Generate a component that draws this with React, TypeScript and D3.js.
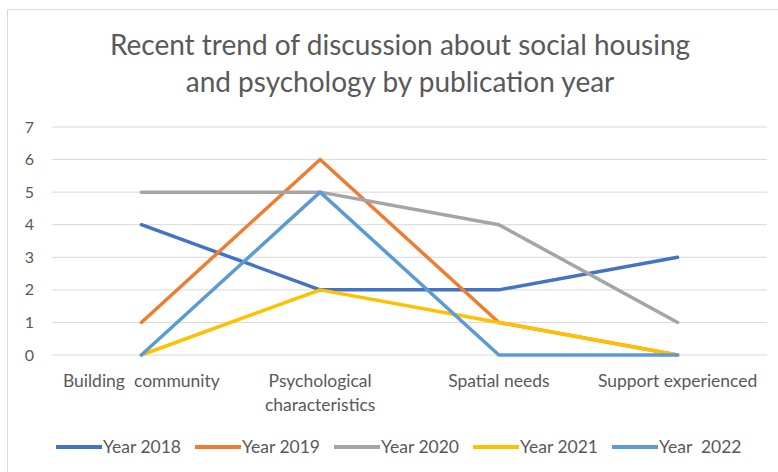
import React from "react";
import * as d3 from "d3";

const categories = [
  ["Building  community"],
  ["Psychological", "characteristics"],
  ["Spatial needs"],
  ["Support experienced"],
];
const seriesNames = ["Year 2018", "Year 2019", "Year 2020", "Year 2021", "Year  2022"];
const seriesColors = ["#4472C4", "#ED7D31", "#A5A5A5", "#FFC000", "#5B9BD5"];
const values2018 = [4, 2, 2, 3];
const values2019 = [1, 6, 1, 0];
const values2020 = [5, 5, 4, 1];
const values2021 = [0, 2, 1, 0];
const values2022 = [0, 5, 0, 0];
const yTicks = [0, 1, 2, 3, 4, 5, 6, 7];
const titleLines = [
  "Recent trend of discussion about social housing",
  "and psychology by publication year",
];

const W = 778;
const H = 472;
const FONT = "Lato, 'Open Sans', sans-serif";

export default function App() {
  const allSeries = [values2018, values2019, values2020, values2021, values2022];
  const x = d3
    .scaleBand<number>()
    .domain(d3.range(categories.length))
    .range([52, 767]);
  const y = d3.scaleLinear().domain([0, 7]).range([355, 127]);
  const line = d3
    .line<number>()
    .x((_, i) => (x(i) as number) + x.bandwidth() / 2)
    .y((d) => y(d));

  const legendStart = 56;
  const legendStep = 139;

  return (
    <div style={{ position: "absolute", left: 0, top: 0 }}>
      <svg width={W} height={H} style={{ display: "block", background: "#fff" }}>
        <rect x={7.5} y={9.5} width={W} height={H} fill="#fff" stroke="#D9D9D9" />
        {titleLines.map((t, i) => (
          <text
            key={i}
            x={400}
            y={55 + i * 37}
            textAnchor="middle"
            fontFamily={FONT}
            fontSize={28}
            fill="#595959"
          >
            {t}
          </text>
        ))}
        {yTicks.map((t) => (
          <g key={t}>
            <line x1={52} x2={767} y1={y(t)} y2={y(t)} stroke="#D9D9D9" strokeWidth={1} />
            <text
              x={34}
              y={y(t)}
              dy="0.35em"
              textAnchor="end"
              fontFamily={FONT}
              fontSize={16}
              fill="#595959"
            >
              {t}
            </text>
          </g>
        ))}
        {categories.map((lines, i) => (
          <text
            key={i}
            x={(x(i) as number) + x.bandwidth() / 2}
            y={387}
            textAnchor="middle"
            fontFamily={FONT}
            fontSize={17.5}
            fill="#595959"
          >
            {lines.map((l, j) => (
              <tspan key={j} x={(x(i) as number) + x.bandwidth() / 2} dy={j === 0 ? 0 : 24} style={{ whiteSpace: "pre" }}>
                {l}
              </tspan>
            ))}
          </text>
        ))}
        {allSeries.map((s, k) => (
          <path
            key={k}
            d={line(s) || ""}
            fill="none"
            stroke={seriesColors[k]}
            strokeWidth={3.5}
            strokeLinejoin="round"
            strokeLinecap="round"
          />
        ))}
        {seriesNames.map((n, k) => (
          <g key={k}>
            <line
              x1={legendStart + k * legendStep}
              x2={legendStart + k * legendStep + 46}
              y1={447}
              y2={447}
              stroke={seriesColors[k]}
              strokeWidth={4}
            />
            <text
              x={legendStart + k * legendStep + 47}
              y={447}
              dy="0.35em"
              fontFamily={FONT}
              fontSize={17.5}
              fill="#595959"
              style={{ whiteSpace: "pre" }}
            >
              {n}
            </text>
          </g>
        ))}
      </svg>
    </div>
  );
}
